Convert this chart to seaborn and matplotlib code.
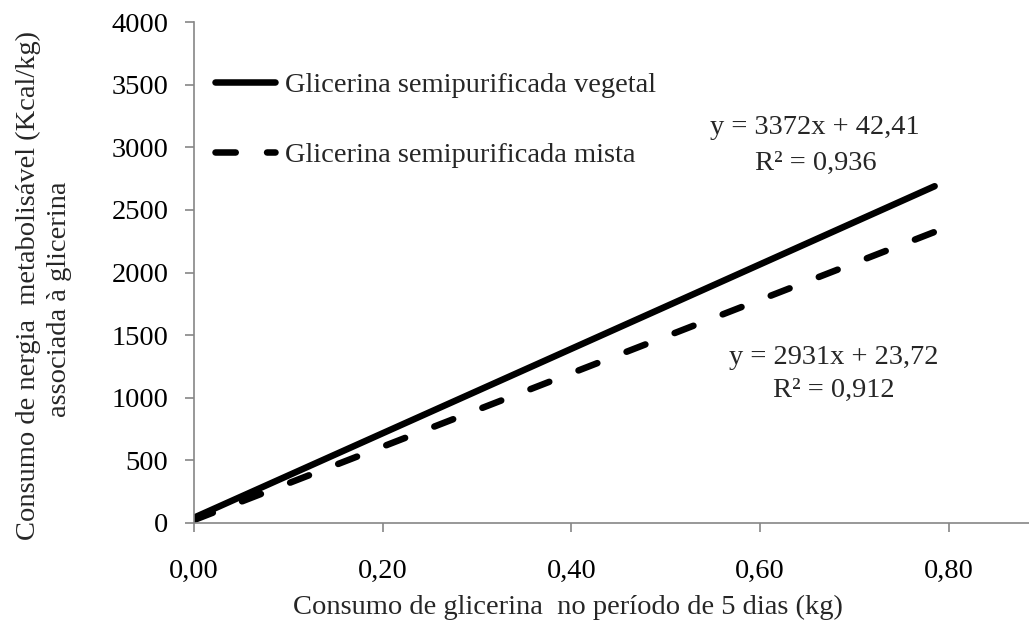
import matplotlib
matplotlib.use("Agg")
import matplotlib.pyplot as plt
import seaborn as sns
import pandas as pd

# ---- data ----
x_vals = [0.0, 0.785]
y_vegetal = [42.41, 2689.0]
y_mista = [23.72, 2324.0]
series_names = ["Glicerina semipurificada vegetal", "Glicerina semipurificada mista"]
eq_vegetal = ["y = 3372x + 42,41", "R² = 0,936"]
eq_mista = ["y = 2931x + 23,72", "R² = 0,912"]
x_ticks = [0.0, 0.2, 0.4, 0.6, 0.8]
x_ticklabels = ["0,00", "0,20", "0,40", "0,60", "0,80"]
y_ticks = [0, 500, 1000, 1500, 2000, 2500, 3000, 3500, 4000]
y_ticklabels = [str(v) for v in y_ticks]
xlabel = "Consumo de glicerina  no período de 5 dias (kg)"
ylabel_1 = "Consumo de nergia  metabolisável (Kcal/kg)"
ylabel_2 = "associada à glicerina"

df = pd.DataFrame({
    "x": x_vals + x_vals,
    "y": y_vegetal + y_mista,
    "serie": [series_names[0]] * len(x_vals) + [series_names[1]] * len(x_vals),
})

sns.set_style("white")
plt.rcParams["font.family"] = ["Liberation Serif", "DejaVu Serif"]

W, H = 1029, 634
DPI = 100
fig = plt.figure(figsize=(W / DPI, H / DPI), dpi=DPI)
ax = fig.add_axes([194 / W, (H - 523) / H, (W - 194) / W, (523 - 22) / H])

FS = 20.5
LW = 4.7
sns.lineplot(data=df, x="x", y="y", style="serie", ax=ax, color="black",
             dashes={series_names[0]: "", series_names[1]: (3.1, 4.8)},
             linewidth=LW, legend=False,
             solid_capstyle="round", dash_capstyle="round")

ax.set_xlim(0, 0.885)
ax.set_ylim(0, 4000)
ax.set_xticks(x_ticks)
ax.set_xticklabels(x_ticklabels)
ax.set_yticks(y_ticks)
ax.set_yticklabels(y_ticklabels)
ax.set_xlabel("")
ax.set_ylabel("")

gray = "#868686"
for s in ["top", "right"]:
    ax.spines[s].set_visible(False)
for s in ["left", "bottom"]:
    ax.spines[s].set_color(gray)
    ax.spines[s].set_linewidth(1.2)

ax.tick_params(axis="y", direction="out", length=6.5, width=1.2, color=gray,
               labelsize=FS, labelcolor="black", pad=12, left=True)
ax.tick_params(axis="x", direction="out", length=6.5, width=1.2, color=gray,
               labelsize=FS, labelcolor="black", pad=19, bottom=True)

# legend built from the plotted lines
handles = ax.get_lines()[:2]
leg = ax.legend(handles, series_names, loc="upper left",
                bbox_to_anchor=(215 / W, 1 - 72 / H), bbox_transform=fig.transFigure,
                frameon=False, fontsize=FS, handlelength=2.1, handletextpad=0.36,
                labelspacing=1.55, borderpad=0, borderaxespad=0)
for h in leg.get_lines():
    h.set_solid_capstyle("round")
    h.set_dash_capstyle("round")

def ftext(px, py, s, **kw):
    fig.text(px / W, 1 - py / H, s, ha="center", va="center", fontsize=FS, **kw)

ftext(815, 128, eq_vegetal[0])
ftext(816, 163, eq_vegetal[1])
ftext(834, 357, eq_mista[0])
ftext(834, 390, eq_mista[1])

ftext(568, 607, xlabel)
ftext(28, 285, ylabel_1, rotation=90)
ftext(60, 299, ylabel_2, rotation=90)

fig.savefig("out.png", dpi=DPI, facecolor="white")
